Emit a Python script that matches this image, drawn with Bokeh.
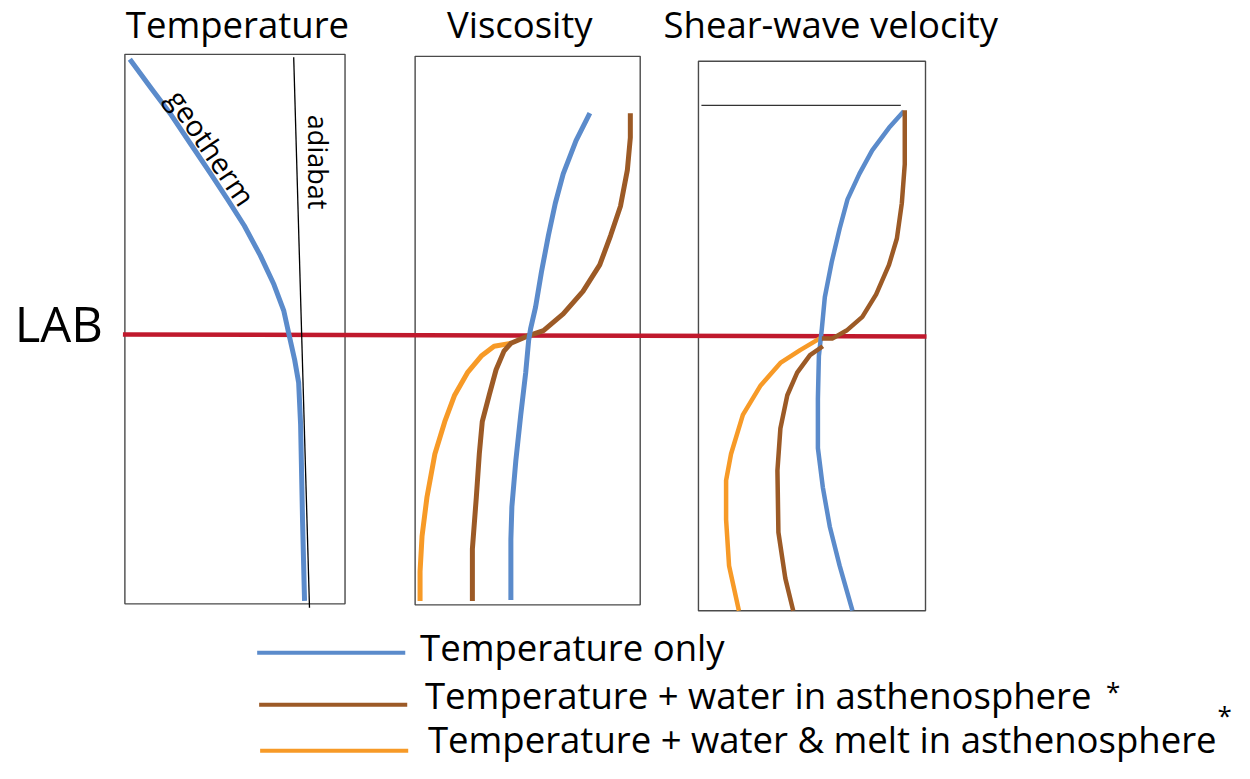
from bokeh.plotting import figure
from bokeh.models import Range1d
from bokeh.core.properties import value
from bokeh.embed import file_html
from bokeh.resources import INLINE

# ---------------- data (schematic; reference-pixel units) ----------------
BLUE = "#5B8BCB"
BROWN = "#9C5A26"
ORANGE = "#F79A27"
RED = "#C0192D"

titles = ["Temperature", "Viscosity", "Shear-wave velocity"]
title_x = [240, 526, 841]
title_y = [24, 24, 24]

frame_left = [126, 420, 707]
frame_right = [349, 648, 937]
frame_top = [55, 57, 62]
frame_bottom = [616, 617, 623]

# Temperature panel
geo_x = [131, 153, 173, 193, 213, 230, 247, 263, 277, 287, 292, 298, 302, 304, 306, 308]
geo_y = [60, 90, 117, 147, 177, 203, 230, 260, 290, 317, 340, 367, 390, 433, 533, 613]
adiabat_x = [297, 313]
adiabat_y = [58, 620]

# Viscosity panel
visc_blue_x = [597, 583, 570, 562, 555, 548, 542, 537, 535, 532, 527, 522, 518, 517, 517]
visc_blue_y = [115, 143, 177, 207, 240, 277, 313, 335, 347, 380, 423, 470, 517, 550, 612]
visc_brown_x = [638, 638, 635, 628, 618, 607, 590, 570, 550, 533, 517, 510, 502, 495, 488,
                485, 482, 478, 478]
visc_brown_y = [115, 140, 173, 210, 240, 270, 297, 320, 337, 343, 350, 358, 377, 403, 430,
                463, 507, 560, 613]
visc_orange_x = [517, 500, 487, 473, 460, 450, 440, 432, 427, 425, 425]
visc_orange_y = [350, 353, 363, 380, 403, 430, 463, 507, 547, 583, 613]

# Shear-wave velocity panel
vs_ref_x = [710, 912]
vs_ref_y = [107, 107]
vs_blue_x = [915, 900, 883, 870, 858, 850, 842, 835, 832, 829, 828, 828, 833, 840, 850, 863]
vs_blue_y = [113, 130, 153, 177, 203, 233, 267, 303, 335, 363, 407, 457, 497, 537, 577, 623]
vs_brown_up_x = [916, 916, 913, 908, 900, 887, 873, 857, 843, 832]
vs_brown_up_y = [112, 167, 207, 243, 270, 300, 323, 337, 345, 345]
vs_brown_lo_x = [833, 820, 807, 797, 790, 787, 788, 795, 803]
vs_brown_lo_y = [353, 362, 380, 403, 437, 480, 543, 590, 623]
vs_orange_x = [830, 810, 790, 770, 752, 740, 735, 735, 738, 748]
vs_orange_y = [345, 357, 370, 393, 423, 463, 490, 530, 577, 623]

# LAB
lab_x = [124, 938]
lab_y = [341, 343]

# legend
leg_labels = ["Temperature only",
              "Temperature + water in asthenosphere",
              "Temperature + water & melt in asthenosphere"]
leg_colors = [BLUE, BROWN, ORANGE]
leg_x0 = [260, 262, 263]
leg_x1 = [410, 412, 413]
leg_line_y = [666, 719, 766]
leg_text_x = [425, 430, 433]
leg_text_y = [660, 709, 754]
star_x = [1127, 1240]
star_y = [705, 729]

FONT = value("Open Sans")

p = figure(width=1234, height=763, x_range=Range1d(0, 1250), y_range=Range1d(779, 0),
           output_backend="svg", toolbar_location=None, min_border=0,
           x_axis_type=None, y_axis_type=None)
p.grid.visible = False
p.outline_line_color = None
p.background_fill_color = "white"

# frames
p.quad(left=frame_left, right=frame_right, top=frame_top, bottom=frame_bottom,
       fill_color=None, line_color="#4a4a4a", line_width=1.4)

# titles
p.text(x=title_x, y=title_y, text=titles, text_font=FONT, text_font_size="36.5px",
       text_align="center", text_baseline="middle", text_color="black")

# LAB line + label
p.line(lab_x, lab_y, line_color=RED, line_width=4.5)
p.text(x=[59], y=[329], text=["LAB"], text_font=FONT, text_font_size="49px",
       text_align="center", text_baseline="middle", text_color="black")

# temperature panel
p.line(adiabat_x, adiabat_y, line_color="black", line_width=1.3)
p.line(geo_x, geo_y, line_color=BLUE, line_width=5, line_join="round")
p.text(x=[214], y=[150], text=["geotherm"], angle=[-56], angle_units="deg",
       text_font=FONT, text_font_size="29px", text_align="center",
       text_baseline="middle", text_color="black")
p.text(x=[322], y=[165], text=["adiabat"], angle=[-90], angle_units="deg",
       text_font=FONT, text_font_size="27px", text_align="center",
       text_baseline="middle", text_color="black")

# viscosity
for xs, ys, c in [(visc_orange_x, visc_orange_y, ORANGE),
                  (visc_brown_x, visc_brown_y, BROWN),
                  (visc_blue_x, visc_blue_y, BLUE)]:
    p.line(xs, ys, line_color=c, line_width=5, line_join="round")

# shear-wave velocity
p.line(vs_ref_x, vs_ref_y, line_color="#333333", line_width=1.3)
for xs, ys, c in [(vs_orange_x, vs_orange_y, ORANGE),
                  (vs_blue_x, vs_blue_y, BLUE),
                  (vs_brown_up_x, vs_brown_up_y, BROWN),
                  (vs_brown_lo_x, vs_brown_lo_y, BROWN)]:
    p.line(xs, ys, line_color=c, line_width=4.5, line_join="round")

# legend
p.segment(x0=leg_x0, x1=leg_x1, y0=leg_line_y, y1=leg_line_y, line_color=leg_colors, line_width=4)
p.text(x=leg_text_x, y=leg_text_y, text=leg_labels, text_font=FONT, text_font_size="36.5px",
       text_align="left", text_baseline="middle", text_color="black")
p.text(x=star_x, y=star_y, text=["*", "*"], text_font=FONT, text_font_size="26px",
       text_align="center", text_baseline="middle", text_color="black")

open("out.html", "w").write(file_html(p, INLINE))
